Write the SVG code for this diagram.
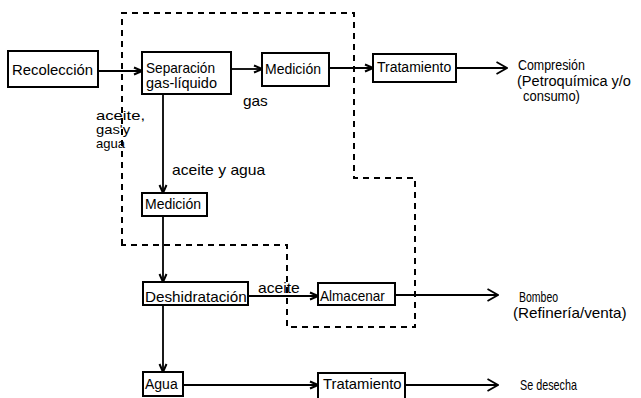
<svg xmlns="http://www.w3.org/2000/svg" width="641" height="398" viewBox="0 0 641 398">
<defs>
<style>
.box{fill:#fff;stroke:#000;stroke-width:2}
.t{font-family:"Liberation Sans",Arial,sans-serif;font-size:14px;fill:#000}
.s{font-size:13px}
.ln{fill:none;stroke:#000;stroke-width:1.8}
.dash{fill:none;stroke:#000;stroke-width:2;stroke-dasharray:6,5}
</style>
<marker id="ah" viewBox="0 0 10 10" refX="9" refY="5" markerWidth="10" markerHeight="10" markerUnits="userSpaceOnUse" orient="auto">
<path d="M1,1.5 L9,5 L1,8.5" fill="none" stroke="#000" stroke-width="2"/>
</marker>
<marker id="oh" viewBox="0 0 12 14" refX="11" refY="7" markerWidth="12" markerHeight="14" markerUnits="userSpaceOnUse" orient="auto">
<path d="M0.5,1 L11,7 L0.5,13" fill="none" stroke="#000" stroke-width="1.8"/>
</marker>
</defs>
<rect width="641" height="398" fill="#fff"/>

<g id="boundary">
<path class="dash" d="M122,245 L122,13 L354,13 L354,178 L415,178 L415,327 L287,327 L287,245 Z"/>
</g>

<g id="connectors">
<line class="ln" x1="98" y1="71" x2="142" y2="71" marker-end="url(#ah)"/>
<line class="ln" x1="231" y1="69" x2="262" y2="69" marker-end="url(#ah)"/>
<line class="ln" x1="329" y1="68" x2="373" y2="68" marker-end="url(#ah)"/>
<line class="ln" x1="456" y1="68" x2="507" y2="68" marker-end="url(#oh)"/>
<line class="ln" x1="163" y1="94" x2="163" y2="193" marker-end="url(#ah)"/>
<line class="ln" x1="163" y1="216" x2="163" y2="282" marker-end="url(#ah)"/>
<line class="ln" x1="163" y1="305" x2="163" y2="372" marker-end="url(#ah)"/>
<line class="ln" x1="248" y1="296" x2="318" y2="296" marker-end="url(#ah)"/>
<line class="ln" x1="395" y1="295" x2="498" y2="295" marker-end="url(#oh)"/>
<line class="ln" x1="183" y1="385" x2="318" y2="385" marker-end="url(#ah)"/>
<line class="ln" x1="405" y1="385" x2="498" y2="385" marker-end="url(#oh)"/>
<text class="t" transform="translate(243,106) scale(1.1,1)">gas</text>
<text class="t s" transform="translate(96,120) scale(1.28,1)">aceite,</text>
<text class="t s" transform="translate(96,134) scale(1.14,1)">gas'y</text>
<text class="t s" x="96" y="148">agua</text>
<text class="t" transform="translate(172,175) scale(1.12,1)">aceite y agua</text>
<text class="t" transform="translate(258,293) scale(1.12,1)">aceite</text>
</g>

<g id="recoleccion">
<rect class="box" x="8" y="51" width="90" height="36"/>
<text class="t" transform="translate(12,75) scale(1.063,1)">Recolección</text>
</g>
<g id="separacion">
<rect class="box" x="142" y="52" width="89" height="42"/>
<text class="t" transform="translate(146,73) scale(0.975,1)">Separación</text>
<text class="t" transform="translate(146,88) scale(1.037,1)">gas-líquido</text>
</g>
<g id="medicion-gas">
<rect class="box" x="262" y="53" width="67" height="33"/>
<text class="t" x="265" y="74">Medición</text>
</g>
<g id="tratamiento-gas">
<rect class="box" x="373" y="54" width="83" height="28"/>
<text class="t" x="377" y="72">Tratamiento</text>
</g>
<g id="compresion">
<text class="t" transform="translate(518,70) scale(0.888,1)">Compresión</text>
<text class="t" transform="translate(517,86) scale(1.04,1)">(Petroquímica y/o</text>
<text class="t" transform="translate(523,101) scale(0.927,1)">consumo)</text>
</g>
<g id="medicion-liquido">
<rect class="box" x="142" y="193" width="65" height="23"/>
<text class="t" x="145" y="209">Medición</text>
</g>
<g id="deshidratacion">
<rect class="box" x="143" y="282" width="105" height="23"/>
<text class="t" transform="translate(145,302) scale(1.09,1)">Deshidratación</text>
</g>
<g id="almacenar">
<rect class="box" x="318" y="283" width="77" height="22"/>
<text class="t" transform="translate(320,301) scale(0.97,1)">Almacenar</text>
</g>
<g id="bombeo">
<text class="t" transform="translate(519,302) scale(0.75,1)">Bombeo</text>
<text class="t" transform="translate(513,318) scale(1.09,1)">(Refinería/venta)</text>
</g>
<g id="agua">
<rect class="box" x="143" y="372" width="40" height="24"/>
<text class="t" x="145" y="389">Agua</text>
</g>
<g id="tratamiento-agua">
<rect class="box" x="318" y="373" width="87" height="27"/>
<text class="t" transform="translate(323,389) scale(1.06,1)">Tratamiento</text>
</g>
<g id="se-desecha">
<text class="t" transform="translate(520,390) scale(0.77,1)">Se desecha</text>
</g>
</svg>
